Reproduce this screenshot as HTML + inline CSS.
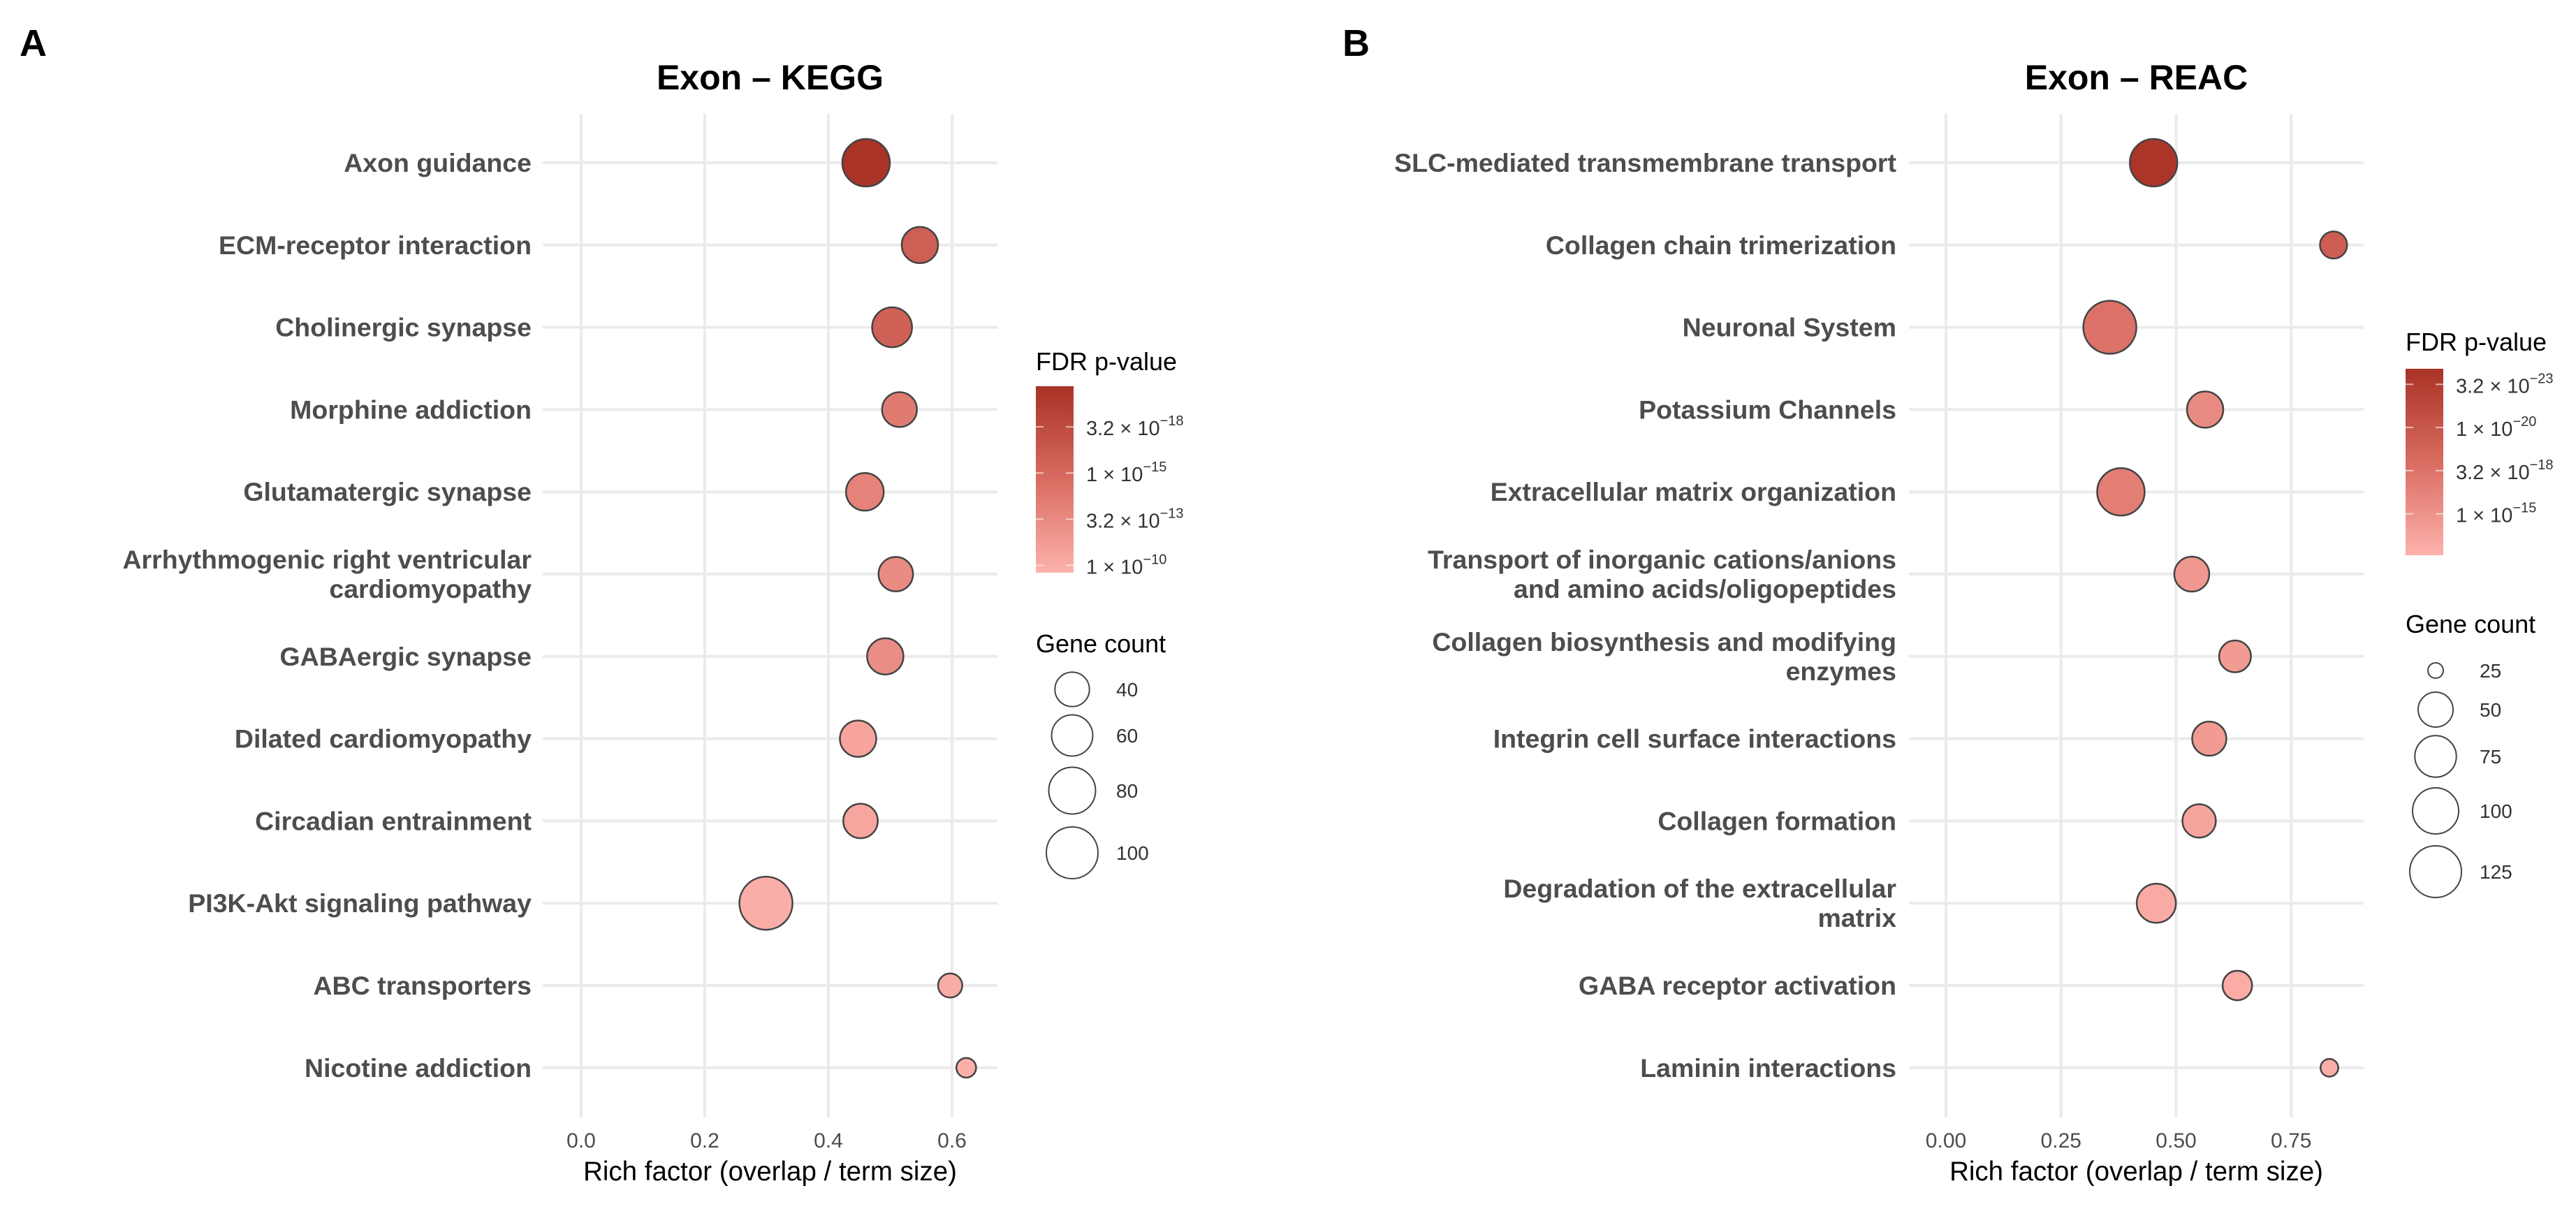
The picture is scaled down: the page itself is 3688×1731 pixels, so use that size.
<!DOCTYPE html>
<html><head><meta charset="utf-8">
<style>
html,body{margin:0;padding:0;background:#fff;}
svg{display:block;font-family:"Liberation Sans",Arial,sans-serif;}
</style></head>
<body>
<svg id="fig" width="3688" height="1731" viewBox="0 0 3688 1731" xmlns="http://www.w3.org/2000/svg">
<defs>
<linearGradient id="cbar" x1="0" y1="1" x2="0" y2="0">
<stop offset="0" stop-color="#FDB2AC"/><stop offset="0.5" stop-color="#D96C61"/><stop offset="1" stop-color="#A93226"/>
</linearGradient>
</defs>
<rect width="3688" height="1731" fill="#fff"/>
</svg>
<script>
// ---------- Panel A data (KEGG) ----------
const keggTerms = ["Axon guidance","ECM-receptor interaction","Cholinergic synapse","Morphine addiction","Glutamatergic synapse","Arrhythmogenic right ventricular|cardiomyopathy","GABAergic synapse","Dilated cardiomyopathy","Circadian entrainment","PI3K-Akt signaling pathway","ABC transporters","Nicotine addiction"];
const keggRich = [0.461,0.548,0.503,0.515,0.459,0.509,0.492,0.448,0.452,0.299,0.597,0.623];
const keggCount = [83,45,56,41,49,40,45,45,40,106,17,10];
const keggLogP = [19.6,15.8,15.6,13.6,13.0,12.4,12.2,10.6,10.5,9.9,10.1,9.8];
const keggXTicks = [0.0,0.2,0.4,0.6];
const keggXTickLabels = ["0.0","0.2","0.4","0.6"];
const keggColorTicks = [17.5,15,12.5,10];
const keggColorMant = ["3.2","1","3.2","1"];
const keggColorExp = ["18","15","13","10"];
const keggSizeBreaks = [40,60,80,100];

// ---------- Panel B data (REAC) ----------
const reacTerms = ["SLC-mediated transmembrane transport","Collagen chain trimerization","Neuronal System","Potassium Channels","Extracellular matrix organization","Transport of inorganic cations/anions|and amino acids/oligopeptides","Collagen biosynthesis and modifying|enzymes","Integrin cell surface interactions","Collagen formation","Degradation of the extracellular|matrix","GABA receptor activation","Laminin interactions"];
const reacRich = [0.451,0.842,0.356,0.563,0.380,0.534,0.628,0.572,0.550,0.457,0.633,0.833];
const reacCount = [106,40,131,55,106,50,46,49,48,66,43,28];
const reacLogP = [23.1,19.4,17.6,15.6,16.6,14.6,14.4,14.4,13.6,13.2,13.1,13.0];
const reacXTicks = [0.0,0.25,0.5,0.75];
const reacXTickLabels = ["0.00","0.25","0.50","0.75"];
const reacColorTicks = [22.5,20,17.5,15];
const reacColorMant = ["3.2","1","3.2","1"];
const reacColorExp = ["23","20","18","15"];
const reacSizeBreaks = [25,50,75,100,125];

const NS = "http://www.w3.org/2000/svg";
const svg = document.getElementById('fig');
function mk(tag, attrs, parent){
  const e = document.createElementNS(NS, tag);
  for (const k in attrs) e.setAttribute(k, attrs[k]);
  (parent||svg).appendChild(e);
  return e;
}
function lerpColor(t){
  const stops=[[0,[253,178,172]],[0.5,[217,108,97]],[1,[169,50,38]]];
  t=Math.max(0,Math.min(1,t));
  let i=t<=0.5?0:1;
  const a=stops[i],b=stops[i+1];
  const u=(t-a[0])/(b[0]-a[0]);
  const c=a[1].map((v,j)=>Math.round(v+(b[1][j]-v)*u));
  return `rgb(${c[0]},${c[1]},${c[2]})`;
}

function panel(cfg){
  const g = mk('g',{});
  
  
  const xs = v => cfg.x0 + v*cfg.xScale;
  const rowY0 = 233, rowStep = 117.8;
  const ys = i => rowY0 + i*rowStep;
  const top = 163, bottom = 1600;
  const L = mk('text',{x:cfg.letterX,y:80,'font-size':54,'font-weight':'bold',fill:'#000'},g);
  L.textContent = cfg.letter;
  
  
  const T = mk('text',{x:(cfg.left+cfg.right)/2,y:128,'font-size':50,'font-weight':'bold','text-anchor':'middle',fill:'#000'},g);
  T.textContent = cfg.title;
  
  
  cfg.xTicks.forEach((v,i)=>{
    const l = mk('line',{x1:xs(v),x2:xs(v),y1:top,y2:bottom,stroke:'#EBEBEB','stroke-width':4},g);
    
    
    const t = mk('text',{x:xs(v),y:1643,'font-size':30,'text-anchor':'middle',fill:'#4D4D4D'},g);
    t.textContent = cfg.xTickLabels[i];
    
    
  });
  cfg.terms.forEach((term,i)=>{
    const y = ys(i);
    const l = mk('line',{x1:cfg.left,x2:cfg.right,y1:y,y2:y,stroke:'#EBEBEB','stroke-width':4},g);
    
    
    const lines = term.split('|');
    const t = mk('text',{x:cfg.labelRight,'font-size':37.5,'font-weight':'bold','text-anchor':'end',fill:'#4D4D4D'},g);
    
    
    lines.forEach((ln,k)=>{
      const ts = mk('tspan',{x:cfg.labelRight,y:y+13+(k-(lines.length-1)/2)*42},t);
      ts.textContent = ln;
    });
  });
  cfg.terms.forEach((term,i)=>{
    const t = (cfg.logP[i]-cfg.cmin)/(cfg.cmax-cfg.cmin);
    const c = mk('circle',{cx:xs(cfg.rich[i]),cy:ys(i),r:cfg.rScale(cfg.count[i]),fill:lerpColor(t),stroke:'#444','stroke-width':2.5},g);
    
    
  });
  const at = mk('text',{x:(cfg.left+cfg.right)/2,y:1690,'font-size':38.5,'text-anchor':'middle',fill:'#000'},g);
  at.textContent = 'Rich factor (overlap / term size)';
  
  
  const lt = mk('text',{x:cfg.cbX,y:cfg.cbTitleY,'font-size':36,fill:'#000'},g);
  lt.textContent = 'FDR p-value';
  
  
  const cbY = v => cfg.cbBottom - (v-cfg.cmin)/(cfg.cmax-cfg.cmin)*(cfg.cbBottom-cfg.cbTop);
  const rb = mk('rect',{x:cfg.cbX,y:cfg.cbTop,width:54,height:cfg.cbBottom-cfg.cbTop,fill:'url(#cbar)'},g);
  
  
  cfg.cTicks.forEach((v,i)=>{
    const y = cbY(v);
    mk('line',{x1:cfg.cbX,x2:cfg.cbX+11,y1:y,y2:y,stroke:'#fff','stroke-opacity':0.6,'stroke-width':2},g);
    mk('line',{x1:cfg.cbX+43,x2:cfg.cbX+54,y1:y,y2:y,stroke:'#fff','stroke-opacity':0.6,'stroke-width':2},g);
    const t = mk('text',{x:cfg.cbX+72,y:y+12,'font-size':29,fill:'#333'},g);
    
    
    const a = mk('tspan',{},t); a.textContent = cfg.cMant[i]+' \u00d7 10';
    const b = mk('tspan',{dy:-14,'font-size':20}, t); b.textContent = '\u2212'+cfg.cExp[i];
  });
  const st = mk('text',{x:cfg.cbX,y:cfg.sizeTitleY,'font-size':36,fill:'#000'},g);
  st.textContent = 'Gene count';
  
  
  cfg.sizeBreaks.forEach((v,i)=>{
    const y = cfg.sizeYs[i];
    const c = mk('circle',{cx:cfg.sizeCx,cy:y,r:cfg.rScale(v),fill:'none',stroke:'#444','stroke-width':2},g);
    
    
    const t = mk('text',{x:cfg.sizeCx+63,y:y+10,'font-size':28,fill:'#333'},g);
    t.textContent = String(v);
    
    
  });
}

panel({id:'kegg',letter:'A',letterX:28,title:'Exon \u2013 KEGG',left:777,right:1428,x0:832,xScale:885,labelRight:761,
  terms:keggTerms,rich:keggRich,count:keggCount,logP:keggLogP,xTicks:keggXTicks,xTickLabels:keggXTickLabels,
  cmin:9.6,cmax:19.7,cTicks:keggColorTicks,cMant:keggColorMant,cExp:keggColorExp,
  cbX:1483,cbTop:553,cbBottom:820,cbTitleY:530,
  rScale:c=>3.5+3.35*Math.sqrt(c),
  sizeBreaks:keggSizeBreaks,sizeTitleY:934,sizeCx:1535,sizeYs:[987,1053,1132,1221]});

const reacBr=[25,50,75,100,125], reacR=[11,25,29.7,33,37];
function reacScale(c){
  if(c<=reacBr[0]) return Math.max(4,reacR[0]+(c-reacBr[0])*(reacR[1]-reacR[0])/25);
  for(let i=0;i<reacBr.length-1;i++){ if(c<=reacBr[i+1]) return reacR[i]+(c-reacBr[i])/(reacBr[i+1]-reacBr[i])*(reacR[i+1]-reacR[i]); }
  return reacR[4]+(c-125)*(reacR[4]-reacR[3])/25;
}
panel({id:'reac',letter:'B',letterX:1922,title:'Exon \u2013 REAC',left:2733,right:3384,x0:2786,xScale:659,labelRight:2715,
  terms:reacTerms,rich:reacRich,count:reacCount,logP:reacLogP,xTicks:reacXTicks,xTickLabels:reacXTickLabels,
  cmin:12.6,cmax:23.4,cTicks:reacColorTicks,cMant:reacColorMant,cExp:reacColorExp,
  cbX:3444,cbTop:528,cbBottom:795,cbTitleY:502,
  rScale:reacScale,
  sizeBreaks:reacSizeBreaks,sizeTitleY:906,sizeCx:3487,sizeYs:[960,1016,1083,1161,1248]});
</script>
</body></html>
